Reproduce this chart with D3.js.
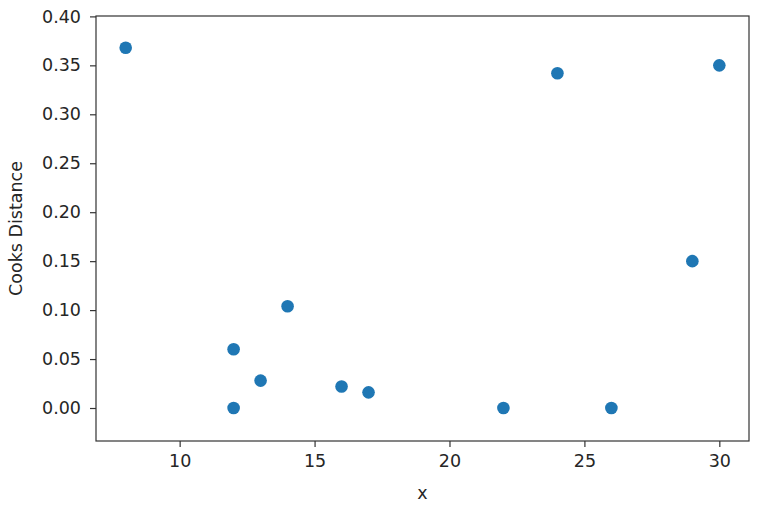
<!DOCTYPE html>
<html><head><meta charset="utf-8">
<script src="https://cdn.jsdelivr.net/npm/d3@7"></script>
<style>body{margin:0;background:#fff;} text{font-family:"DejaVu Sans",sans-serif;}</style>
</head><body><svg id="c" width="768" height="520"></svg>
<script>
const xValues = [8, 12, 12, 13, 14, 16, 17, 22, 24, 26, 29, 30];
const cooksValues = [0.368, 0.060, 0.000, 0.028, 0.104, 0.022, 0.016, 0.000, 0.342, 0.000, 0.150, 0.350];
const xTicks = [10, 15, 20, 25, 30];
const yTicks = [0.00, 0.05, 0.10, 0.15, 0.20, 0.25, 0.30, 0.35, 0.40];

const svg = d3.select("#c");
const L = 96, R = 749, T = 16, B = 441;
const x = d3.scaleLinear().domain([6.9, 31.1]).range([L, R]);
const y = d3.scaleLinear().domain([-0.0337, 0.4004]).range([B, T]);

const fs = "17.5px";
const gx = svg.append("g").attr("transform", `translate(0,${B})`)
  .call(d3.axisBottom(x).tickValues(xTicks).tickSize(6).tickPadding(8).tickFormat(d3.format("d")));
const gy = svg.append("g").attr("transform", `translate(${L},0)`)
  .call(d3.axisLeft(y).tickValues(yTicks).tickSize(6).tickPadding(9).tickFormat(d3.format(".2f")));
[gx, gy].forEach(g => {
  g.select(".domain").remove();
  g.selectAll("line").attr("stroke", "#333").attr("stroke-width", 1.2);
  g.selectAll("text").attr("fill", "#262626").style("font-size", fs).style("font-family", "DejaVu Sans");
});
svg.append("rect").attr("x", L).attr("y", T).attr("width", R - L).attr("height", B - T)
  .attr("fill", "none").attr("stroke", "#333").attr("stroke-width", 1.2);

svg.append("g").selectAll("circle").data(xValues.map((v, i) => [v, cooksValues[i]]))
  .join("circle").attr("cx", d => x(d[0])).attr("cy", d => y(d[1])).attr("r", 6.3)
  .attr("fill", "#1f77b4");

svg.append("text").attr("x", (L + R) / 2).attr("y", 499).attr("text-anchor", "middle")
  .style("font-size", fs).attr("fill", "#262626").text("x");
svg.append("text").attr("transform", `translate(22,${(T + B) / 2}) rotate(-90)`)
  .attr("text-anchor", "middle").style("font-size", fs).attr("fill", "#262626").text("Cooks Distance");
</script></body></html>
